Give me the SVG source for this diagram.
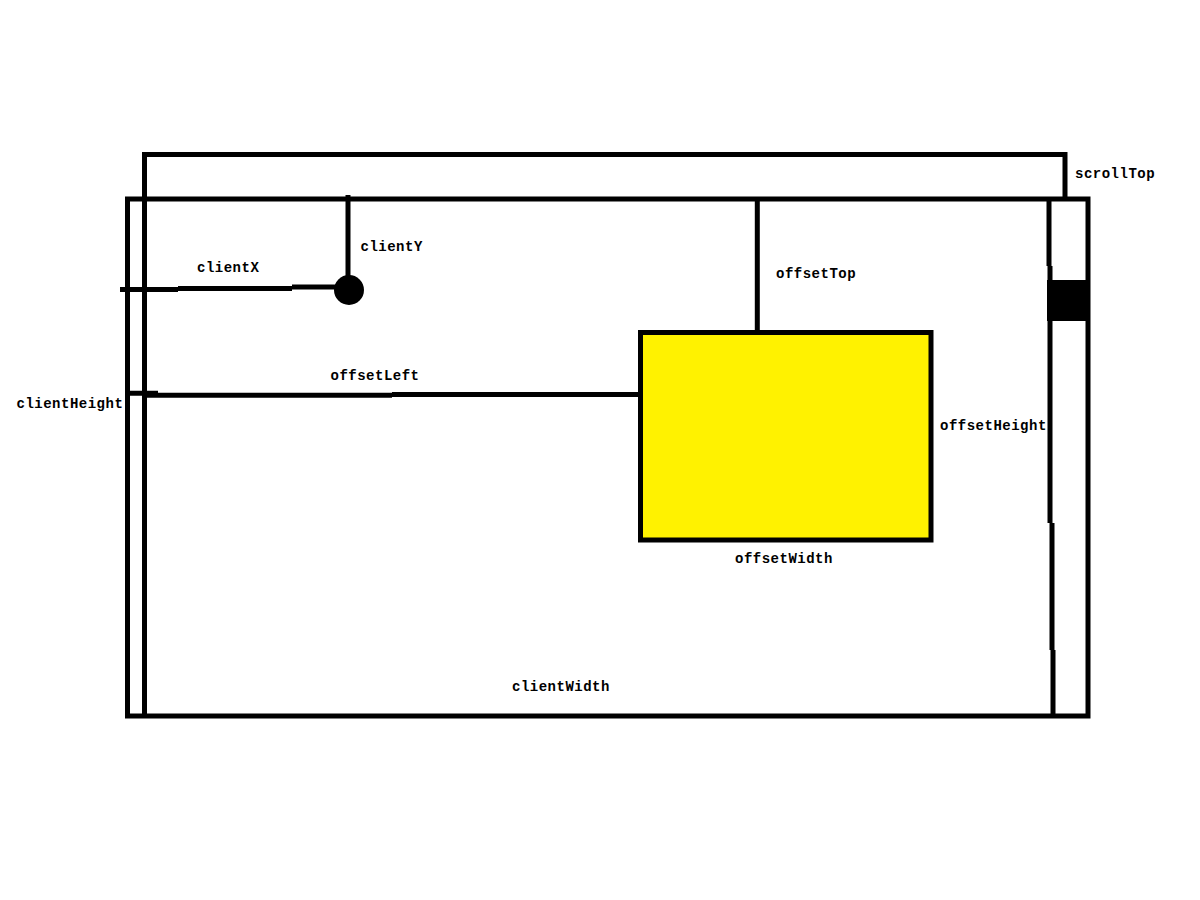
<svg xmlns="http://www.w3.org/2000/svg" width="1200" height="900" viewBox="0 0 1200 900">
<style>
.ln{fill:none;stroke:#000;stroke-width:5;stroke-linecap:butt;stroke-linejoin:miter}
.box{fill:#fff200;stroke:#000;stroke-width:5}
.lb{font-family:"Liberation Mono","DejaVu Sans Mono",monospace;font-weight:bold;font-size:14px;letter-spacing:0.5px;fill:#000}
</style>
<rect width="1200" height="900" fill="#fff"/>
<g id="scroll-content">
<polyline class="ln" points="144.5,716 144.5,154.5 1065,154.5 1065,199"/>
</g>
<g id="viewport">
<rect class="ln" x="127.5" y="199" width="960.5" height="517"/>
</g>
<g id="scrollbar">
<path class="ln" d="M1049,199 V266 M1050,266 V523 M1052,523 V650 M1053,650 V716"/>
<rect id="thumb" x="1047" y="280" width="43" height="41" fill="#000"/>
</g>
<g id="element">
<rect class="box" x="640.5" y="332.5" width="290.5" height="207.5"/>
</g>
<g id="point">
<circle cx="349" cy="290" r="15" fill="#000"/>
</g>
<g id="connectors">
<path class="ln" d="M348,195 V290"/>
<path class="ln" d="M120,289.5 H178 M178,288.5 H292 M292,287 H336"/>
<path class="ln" d="M125,393.3 H158 M144,395.3 H392 M392,394.5 H640"/>
<path class="ln" d="M757.3,199 V331"/>
</g>
<g id="labels">
<text class="lb" x="360.5" y="251">clientY</text>
<text class="lb" x="197" y="272">clientX</text>
<text class="lb" x="776" y="277.5">offsetTop</text>
<text class="lb" x="330.5" y="380">offsetLeft</text>
<text class="lb" x="16.5" y="407.5">clientHeight</text>
<text class="lb" x="940" y="429.5">offsetHeight</text>
<text class="lb" x="735" y="562.5">offsetWidth</text>
<text class="lb" x="512" y="691">clientWidth</text>
<text class="lb" x="1075" y="177.5">scrollTop</text>
</g>
</svg>
